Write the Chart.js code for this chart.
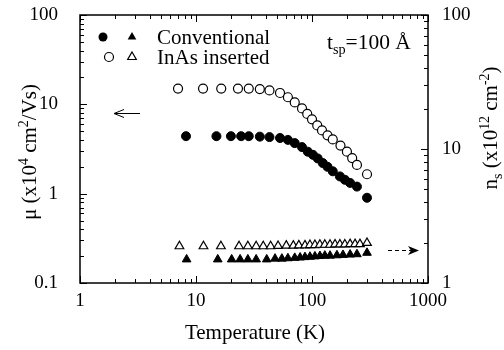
<!DOCTYPE html>
<html><head><meta charset="utf-8">
<script src="https://cdn.jsdelivr.net/npm/chart.js@4/dist/chart.umd.min.js"></script>
<style>html,body{margin:0;padding:0;background:#fff}</style>
</head><body>
<canvas id="c" width="504" height="350" style="width:504px;height:350px;display:block"></canvas>
<script>
const FONT = "'Liberation Serif','Times New Roman',serif";

// Temperature (K) and mobility (x10^4 cm^2/Vs)
const convMuTemp = [8.2, 15, 20, 24.5, 28.5, 35.5, 43, 53, 62, 71, 82, 92, 102, 112, 124, 136, 151, 174, 192, 213, 244, 298];
const convMu     = [4.4, 4.4, 4.4, 4.4, 4.4, 4.35, 4.3, 4.2, 4.0, 3.68, 3.32, 2.95, 2.72, 2.48, 2.2, 2.0, 1.78, 1.56, 1.43, 1.32, 1.2, 0.9];
const inasMuTemp = [7.0, 11.5, 16.5, 23, 28.5, 35.5, 43, 53, 62, 71, 82, 91, 100, 111, 122, 136, 151, 176, 200, 222, 244, 298];
const inasMu     = [15, 15, 15, 15, 15, 14.8, 14.3, 13.4, 12, 10.5, 9.0, 7.8, 6.8, 5.8, 5.1, 4.5, 4.05, 3.45, 2.95, 2.5, 2.1, 1.65];
// Temperature (K) and sheet density (x10^12 cm^-2)
const convNsTemp = [8.3, 15.4, 20.3, 24, 28, 33, 40.7, 48, 55, 62, 71, 79, 87, 96, 106, 117, 129, 143, 164, 185, 213, 244, 298];
const convNs     = [1.5, 1.5, 1.5, 1.5, 1.5, 1.5, 1.5, 1.52, 1.52, 1.53, 1.54, 1.55, 1.56, 1.57, 1.58, 1.59, 1.6, 1.6, 1.61, 1.62, 1.63, 1.64, 1.68];
const inasNsTemp = [7.2, 11.6, 16.4, 23.5, 28, 33, 38, 44, 51, 60, 69, 77, 87, 96, 106, 117, 129, 143, 158, 174, 192, 213, 235, 259, 298];
const inasNs     = [1.88, 1.88, 1.88, 1.88, 1.88, 1.88, 1.88, 1.88, 1.89, 1.9, 1.9, 1.91, 1.91, 1.92, 1.92, 1.93, 1.93, 1.93, 1.94, 1.94, 1.94, 1.95, 1.95, 1.95, 1.99];

const xTicks  = [1, 10, 100, 1000];
const yTicks  = [0.1, 1, 10, 100];
const y2Ticks = [1, 10, 100];

const legendLabels = ["Conventional", "InAs inserted"];

function pts(xs, ys){ return xs.map((x,i)=>({x:x, y:ys[i]})); }

function richWidth(ctx, parts, size){
  let w = 0;
  for (const p of parts){
    ctx.font = (p.s ? size*0.66 : size) + "px " + FONT;
    w += ctx.measureText(p.t).width;
  }
  return w;
}
function drawRich(ctx, parts, x, y, size, align){
  const total = richWidth(ctx, parts, size);
  let cx = align === 'center' ? x - total/2 : x;
  for (const p of parts){
    const fs = p.s ? size*0.66 : size;
    ctx.font = fs + "px " + FONT;
    let dy = 0;
    if (p.s === 'sup') dy = -size*0.4;
    if (p.s === 'sub') dy = size*0.25;
    ctx.fillText(p.t, cx, y + dy);
    cx += ctx.measureText(p.t).width;
  }
}

const decor = {
  id: 'decor',
  afterDraw(chart){
    const ctx = chart.ctx;
    const a = chart.chartArea;
    const xs = chart.scales.x, ys = chart.scales.y, y2 = chart.scales.y2;
    ctx.save();
    ctx.strokeStyle = '#000';
    ctx.fillStyle = '#000';
    ctx.lineWidth = 1.5;
    ctx.strokeRect(a.left, a.top, a.right - a.left, a.bottom - a.top);
    ctx.lineWidth = 1;
    ctx.beginPath();
    const decadeTicks = (min, max, fn) => {
      for (let d = min; d < max*1.001; d *= 10){
        for (let m = 1; m <= 9; m++){
          const v = d*m;
          if (v > max*1.001) break;
          fn(v, m === 1);
        }
      }
    };
    decadeTicks(1, 1000, (v, major) => {
      const px = Math.round(xs.getPixelForValue(v)) + 0.5;
      const L = major ? 7 : 4;
      ctx.moveTo(px, a.bottom); ctx.lineTo(px, a.bottom - L);
      ctx.moveTo(px, a.top); ctx.lineTo(px, a.top + L);
    });
    decadeTicks(0.1, 100, (v, major) => {
      const py = Math.round(ys.getPixelForValue(v)) + 0.5;
      const L = major ? 7 : 4;
      ctx.moveTo(a.left, py); ctx.lineTo(a.left + L, py);
    });
    decadeTicks(1, 100, (v, major) => {
      const py = Math.round(y2.getPixelForValue(v)) + 0.5;
      const L = major ? 7 : 4;
      ctx.moveTo(a.right, py); ctx.lineTo(a.right - L, py);
    });
    ctx.stroke();

    const drawCircle = (x, y, filled) => {
      ctx.beginPath(); ctx.arc(x, y, 4.5, 0, Math.PI*2);
      if (filled){ ctx.fill(); } else { ctx.fillStyle='#fff'; ctx.fill(); ctx.fillStyle='#000'; ctx.lineWidth=1.2; ctx.stroke(); }
    };
    const drawTri = (x, y, filled) => {
      const r = 5;
      ctx.beginPath();
      ctx.moveTo(x, y - r);
      ctx.lineTo(x + r*0.866, y + r*0.5);
      ctx.lineTo(x - r*0.866, y + r*0.5);
      ctx.closePath();
      if (filled){ ctx.fill(); } else { ctx.fillStyle='#fff'; ctx.fill(); ctx.fillStyle='#000'; ctx.lineWidth=1.2; ctx.stroke(); }
    };
    drawCircle(103, 37, true);
    drawTri(132, 37, true);
    drawCircle(109, 57, false);
    drawTri(132, 57, false);
    ctx.fillStyle = '#000';
    ctx.textBaseline = 'alphabetic';
    ctx.textAlign = 'left';
    ctx.font = "21px " + FONT;
    ctx.fillText(legendLabels[0], 157, 44);
    ctx.fillText(legendLabels[1], 157, 64);

    drawRich(ctx, [{t:'t'},{t:'sp', s:'sub'},{t:'=100 \u00C5'}], 327, 49, 21.5, 'left');

    ctx.font = "21px " + FONT;
    ctx.textAlign = 'center';
    ctx.fillText('Temperature (K)', (a.left + a.right)/2 + 1, 339);
    ctx.textAlign = 'left';
    ctx.save();
    ctx.translate(36, 152);
    ctx.rotate(-Math.PI/2);
    drawRich(ctx, [{t:'\u03BC (x10'},{t:'4', s:'sup'},{t:' cm'},{t:'2', s:'sup'},{t:'/Vs)'}], 0, 0, 21, 'center');
    ctx.restore();
    ctx.save();
    ctx.translate(497, 128);
    ctx.rotate(-Math.PI/2);
    drawRich(ctx, [{t:'n'},{t:'s', s:'sub'},{t:' (x10'},{t:'12', s:'sup'},{t:' cm'},{t:'-2', s:'sup'},{t:')'}], 0, 0, 21, 'center');
    ctx.restore();

    ctx.lineWidth = 1;
    ctx.beginPath();
    ctx.moveTo(140, 113.5); ctx.lineTo(115, 113.5);
    ctx.moveTo(124, 109.5); ctx.lineTo(114, 113.5); ctx.lineTo(124, 117.5);
    ctx.stroke();
    ctx.beginPath();
    ctx.setLineDash([4, 3]);
    ctx.moveTo(388, 250.5); ctx.lineTo(412, 250.5);
    ctx.stroke();
    ctx.setLineDash([]);
    ctx.beginPath();
    ctx.moveTo(419, 250.5); ctx.lineTo(408, 246); ctx.lineTo(411, 250.5); ctx.lineTo(408, 255); ctx.closePath();
    ctx.fill();
    ctx.restore();
  }
};

const tickFont = {family: FONT, size: 19};
function logAxis(pos, min, max, ticksArr, size, pad){
  return {
    type: 'logarithmic', position: pos, min: min, max: max,
    afterBuildTicks: s => { s.ticks = ticksArr.map(v => ({value: v})); },
    afterFit: s => {
      if (pos === 'bottom') s.height = size; else s.width = size;
      s.paddingTop = 0; s.paddingBottom = 0; s.paddingLeft = 0; s.paddingRight = 0;
    },
    ticks: {autoSkip: false, maxRotation: 0, color: '#000', font: tickFont, padding: pad,
            callback: v => String(v)},
    grid: {display: false, drawTicks: false},
    border: {display: false}
  };
}

new Chart(document.getElementById('c'), {
  type: 'scatter',
  data: {
    datasets: [
      {label: 'InAs mu', data: pts(inasMuTemp, inasMu), yAxisID: 'y', pointStyle: 'circle', pointRadius: 4.5,
       backgroundColor: '#fff', borderColor: '#000', borderWidth: 1.2},
      {label: 'Conv mu', data: pts(convMuTemp, convMu), yAxisID: 'y', pointStyle: 'circle', pointRadius: 4.5,
       backgroundColor: '#000', borderColor: '#000', borderWidth: 1},
      {label: 'InAs ns', data: pts(inasNsTemp, inasNs), yAxisID: 'y2', pointStyle: 'triangle', pointRadius: 5,
       backgroundColor: '#fff', borderColor: '#000', borderWidth: 1.2},
      {label: 'Conv ns', data: pts(convNsTemp, convNs), yAxisID: 'y2', pointStyle: 'triangle', pointRadius: 5,
       backgroundColor: '#000', borderColor: '#000', borderWidth: 1}
    ]
  },
  options: {
    responsive: false, animation: false, devicePixelRatio: 1,
    layout: {padding: {top: 15, left: 0, right: 0, bottom: 0}},
    plugins: {legend: {display: false}, tooltip: {enabled: false}},
    scales: {
      x: logAxis('bottom', 1, 1000, xTicks, 67, 7),
      y: logAxis('left', 0.1, 100, yTicks, 80, 22),
      y2: logAxis('right', 1, 100, y2Ticks, 76, 14)
    }
  },
  plugins: [decor]
});
</script>
</body></html>
